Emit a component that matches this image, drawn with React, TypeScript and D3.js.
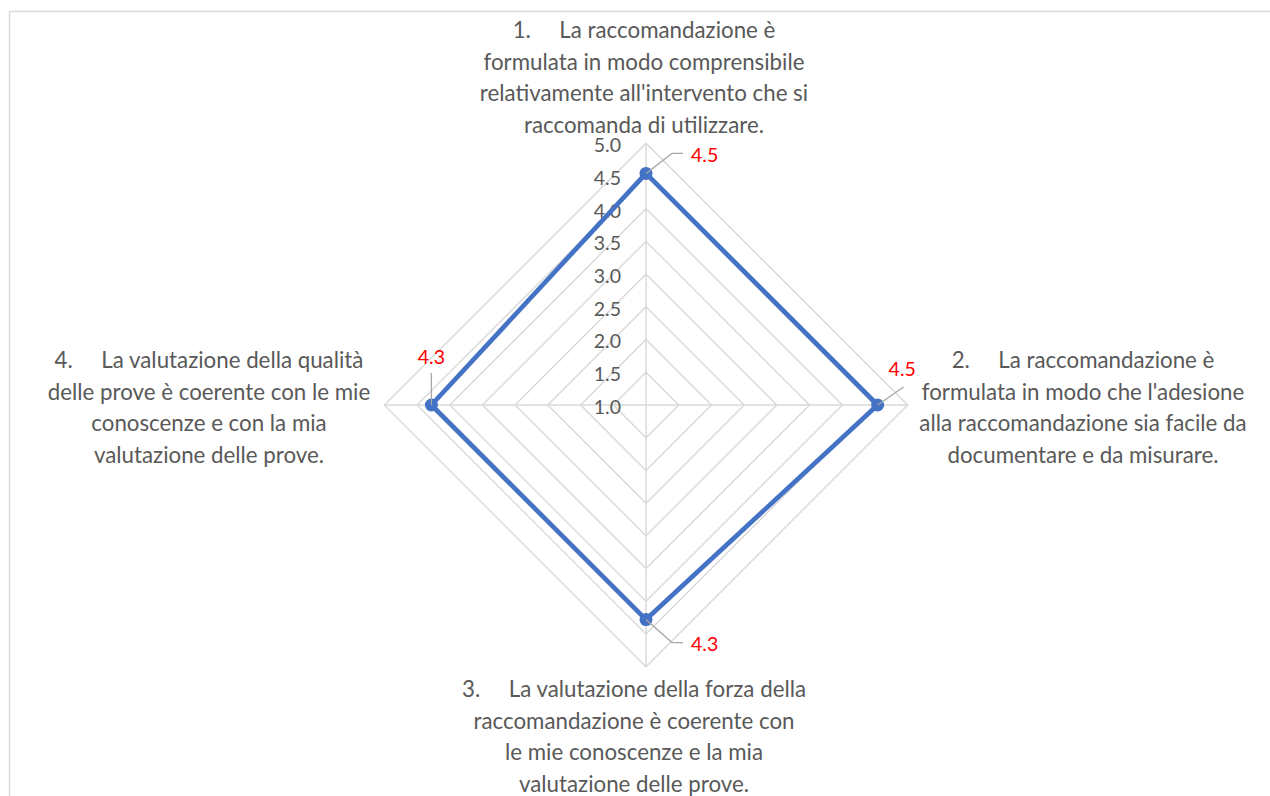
import React, { useEffect, useRef } from "react";
import * as d3 from "d3";

// criteria shown on the four spokes, each split in the lines used in the picture
const categories: string[][] = [
  ["1.     La raccomandazione è", "formulata in modo comprensibile", "relativamente all'intervento che si", "raccomanda di utilizzare."],
  ["2.     La raccomandazione è", "formulata in modo che l'adesione", "alla raccomandazione sia facile da", "documentare e da misurare."],
  ["3.     La valutazione della forza della", "raccomandazione è coerente con", "le mie conoscenze e la mia", "valutazione delle prove."],
  ["4.     La valutazione della qualità", "delle prove è coerente con le mie", "conoscenze e con la mia", "valutazione delle prove."],
];
const scores = [4.54, 4.54, 4.28, 4.28];
const ticks = [1.0, 1.5, 2.0, 2.5, 3.0, 3.5, 4.0, 4.5, 5.0];

const App: React.FC = () => {
  const svgRef = useRef<SVGSVGElement | null>(null);

  useEffect(() => {
    const width = 1270;
    const height = 796;
    const cx = 646;
    const cy = 405;
    const font = "Lato, 'Open Sans', sans-serif";
    const svg = d3.select(svgRef.current);
    svg.selectAll("*").remove();

    // outer chart border (runs off the right and bottom edges)
    svg
      .append("rect")
      .attr("x", 9.5)
      .attr("y", 11.5)
      .attr("width", width + 40)
      .attr("height", height + 40)
      .attr("fill", "white")
      .attr("stroke", "#d9d9d9")
      .attr("stroke-width", 1.5);

    const r = d3.scaleLinear().domain([1, 5]).range([0, 261.7]);
    const angle = (i: number) => (i * Math.PI * 2) / scores.length;

    const g = svg.append("g").attr("transform", `translate(${cx},${cy})`);

    const radial = d3
      .lineRadial<number>()
      .angle((_, i) => angle(i))
      .curve(d3.curveLinearClosed);

    // grid rings
    ticks.slice(1).forEach((t) => {
      g.append("path")
        .attr("d", radial.radius(() => r(t))(scores.map(() => t)))
        .attr("fill", "none")
        .attr("stroke", "#d9d9d9")
        .attr("stroke-width", 1.4);
    });

    // spokes
    scores.forEach((_, i) => {
      const a = angle(i);
      g.append("line")
        .attr("x1", 0)
        .attr("y1", 0)
        .attr("x2", Math.sin(a) * r(5))
        .attr("y2", -Math.cos(a) * r(5))
        .attr("stroke", "#d9d9d9")
        .attr("stroke-width", 1.4);
    });

    // radial tick labels
    g.selectAll(".tick")
      .data(ticks)
      .enter()
      .append("text")
      .attr("x", -25)
      .attr("y", (d) => -r(d) + 2)
      .attr("dy", "0.35em")
      .attr("text-anchor", "end")
      .attr("font-family", font)
      .attr("font-size", 19.5)
      .attr("fill", "#595959")
      .text((d) => d3.format(".1f")(d));

    // data series
    g.append("path")
      .attr("d", radial.radius((d) => r(d))(scores))
      .attr("fill", "none")
      .attr("stroke", "#4472c4")
      .attr("stroke-width", 4.7)
      .attr("stroke-linejoin", "round");

    const pt = (v: number, i: number) => [Math.sin(angle(i)) * r(v), -Math.cos(angle(i)) * r(v)];

    g.selectAll(".dot")
      .data(scores)
      .enter()
      .append("circle")
      .attr("cx", (d, i) => pt(d, i)[0])
      .attr("cy", (d, i) => pt(d, i)[1])
      .attr("r", 6.5)
      .attr("fill", "#4472c4");

    // data labels with leader lines (offsets relative to the point)
    const leaders: [number, number][][] = [
      [[0, 0], [26, -20], [37, -20]],
      [[0, 0], [26, -18]],
      [[0, 0], [26, 23], [37, 23]],
      [[0, 0], [0, -32]],
    ];
    const labelOff: [number, number, string][] = [
      [45, -18, "start"],
      [11, -36, "start"],
      [45, 25, "start"],
      [0, -48, "middle"],
    ];
    scores.forEach((v, i) => {
      const [px, py] = pt(v, i);
      g.append("path")
        .attr("d", d3.line()(leaders[i].map(([dx, dy]) => [px + dx, py + dy] as [number, number])))
        .attr("fill", "none")
        .attr("stroke", "#a6a6a6")
        .attr("stroke-width", 1.3);
      g.append("text")
        .attr("x", px + labelOff[i][0])
        .attr("y", py + labelOff[i][1])
        .attr("dy", "0.35em")
        .attr("text-anchor", labelOff[i][2])
        .attr("font-family", font)
        .attr("font-size", 19.5)
        .attr("fill", "#ff0000")
        .text(d3.format(".1f")(v));
    });

    // category labels
    const labelPos: [number, number][] = [
      [644, 38],
      [1083, 368],
      [634, 697],
      [209, 368],
    ];
    categories.forEach((lines, i) => {
      const t = svg
        .append("text")
        .attr("text-anchor", "middle")
        .attr("font-family", font)
        .attr("font-size", 22.3)
        .attr("fill", "#595959")
        .attr("xml:space", "preserve");
      lines.forEach((line, j) => {
        t.append("tspan")
          .attr("x", labelPos[i][0])
          .attr("y", labelPos[i][1] + j * 31.7)
          .attr("xml:space", "preserve")
          .text(line);
      });
    });
  }, []);

  return (
    <div style={{ position: "absolute", left: 0, top: 0 }}>
      <svg ref={svgRef} width={1270} height={796} style={{ display: "block", whiteSpace: "pre" }}></svg>
    </div>
  );
};

export default App;
